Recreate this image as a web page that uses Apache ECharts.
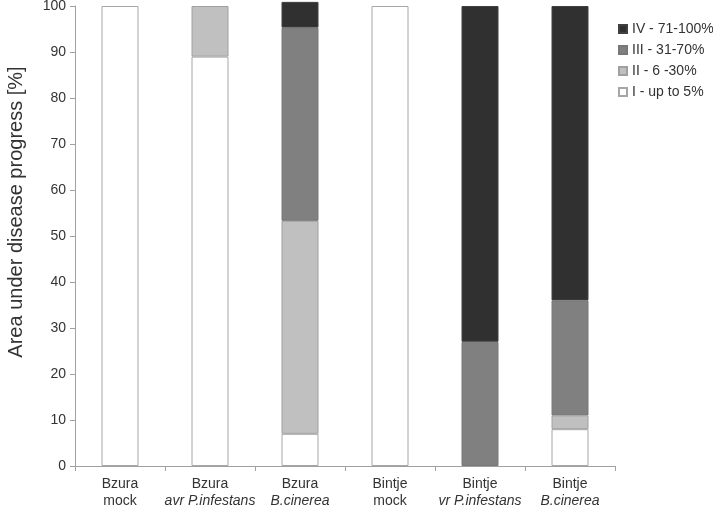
<!DOCTYPE html>
<html>
<head>
<meta charset="utf-8">
<script src="https://cdn.jsdelivr.net/npm/echarts@6/dist/echarts.min.js"></script>
<style>html,body{margin:0;padding:0;background:#fff}#c{width:713px;height:506px}</style>
</head>
<body>
<div id="c"></div>
<script>
const catLine1 = ['Bzura', 'Bzura', 'Bzura', 'Bintje', 'Bintje', 'Bintje'];
const catLine2 = ['mock', 'avr P.infestans', 'B.cinerea', 'mock', 'vr P.infestans', 'B.cinerea'];
const catItalic = [false, true, true, false, true, true];
const categories = catLine1.map((a, i) => a + '|' + i);

const seriesNames = ['I - up to 5%', 'II - 6 -30%', 'III - 31-70%', 'IV - 71-100%'];
const sI = [100, 89, 7, 100, null, 8];
const sII = [null, 11, 46.3, null, null, 3];
const sIII = [null, null, 42, null, 27, 25];
const sIV = [null, null, 5.6, null, 73, 64];
const yTicks = [0, 10, 20, 30, 40, 50, 60, 70, 80, 90, 100];
const yTitle = 'Area under disease progress [%]';

const FONT = 'Liberation Sans, Arial, sans-serif';
const colors = ['#ffffff', '#c0c0c0', '#808080', '#303030'];
const borders = ['#a6a6a6', '#a0a0a0', '#787878', '#404040'];
const allData = [sI, sII, sIII, sIV];

const chart = echarts.init(document.getElementById('c'));
chart.setOption({
  animation: false,
  backgroundColor: '#fff',
  textStyle: { fontFamily: FONT },
  grid: { left: 75, right: 98, top: 6, bottom: 40, containLabel: false, outerBoundsMode: 'none' },
  graphic: [{
    type: 'text',
    x: 16,
    y: 212,
    rotation: Math.PI / 2,
    style: { text: yTitle, font: '20px ' + FONT, fill: '#333', textAlign: 'center', textVerticalAlign: 'middle' }
  }],
  legend: {
    orient: 'vertical',
    left: 613,
    top: 17,
    itemWidth: 8,
    itemHeight: 8,
    itemGap: 7,
    icon: 'rect',
    data: seriesNames.slice().reverse(),
    textStyle: { fontSize: 14, color: '#333', fontFamily: FONT }
  },
  xAxis: {
    type: 'category',
    data: categories,
    axisLine: { lineStyle: { color: '#a0a0a0', width: 1 } },
    axisTick: { show: true, length: 5, alignWithLabel: false, lineStyle: { color: '#a0a0a0' } },
    axisLabel: {
      interval: 0,
      margin: 10,
      color: '#333',
      fontSize: 14,
      lineHeight: 17,
      formatter: function (v) {
        const i = +v.split('|')[1];
        return catLine1[i] + '\n' + (catItalic[i] ? '{it|' + catLine2[i] + '}' : '{n|' + catLine2[i] + '}');
      },
      rich: {
        it: { fontStyle: 'italic', fontSize: 14, color: '#333', lineHeight: 17, fontFamily: FONT },
        n: { fontSize: 14, color: '#333', lineHeight: 17, fontFamily: FONT }
      }
    }
  },
  yAxis: {
    type: 'value',
    min: yTicks[0],
    max: yTicks[yTicks.length - 1],
    interval: 10,
    axisLine: { show: true, lineStyle: { color: '#a0a0a0', width: 1 } },
    axisTick: { show: true, length: 5, lineStyle: { color: '#a0a0a0' } },
    splitLine: { show: false },
    axisLabel: { color: '#333', fontSize: 14, margin: 9 }
  },
  series: allData.map((d, k) => ({
    name: seriesNames[k],
    type: 'bar',
    stack: 'all',
    data: d,
    barWidth: 37,
    clip: false,
    itemStyle: { color: colors[k], borderColor: borders[k], borderWidth: 1 }
  }))
});
</script>
</body>
</html>
